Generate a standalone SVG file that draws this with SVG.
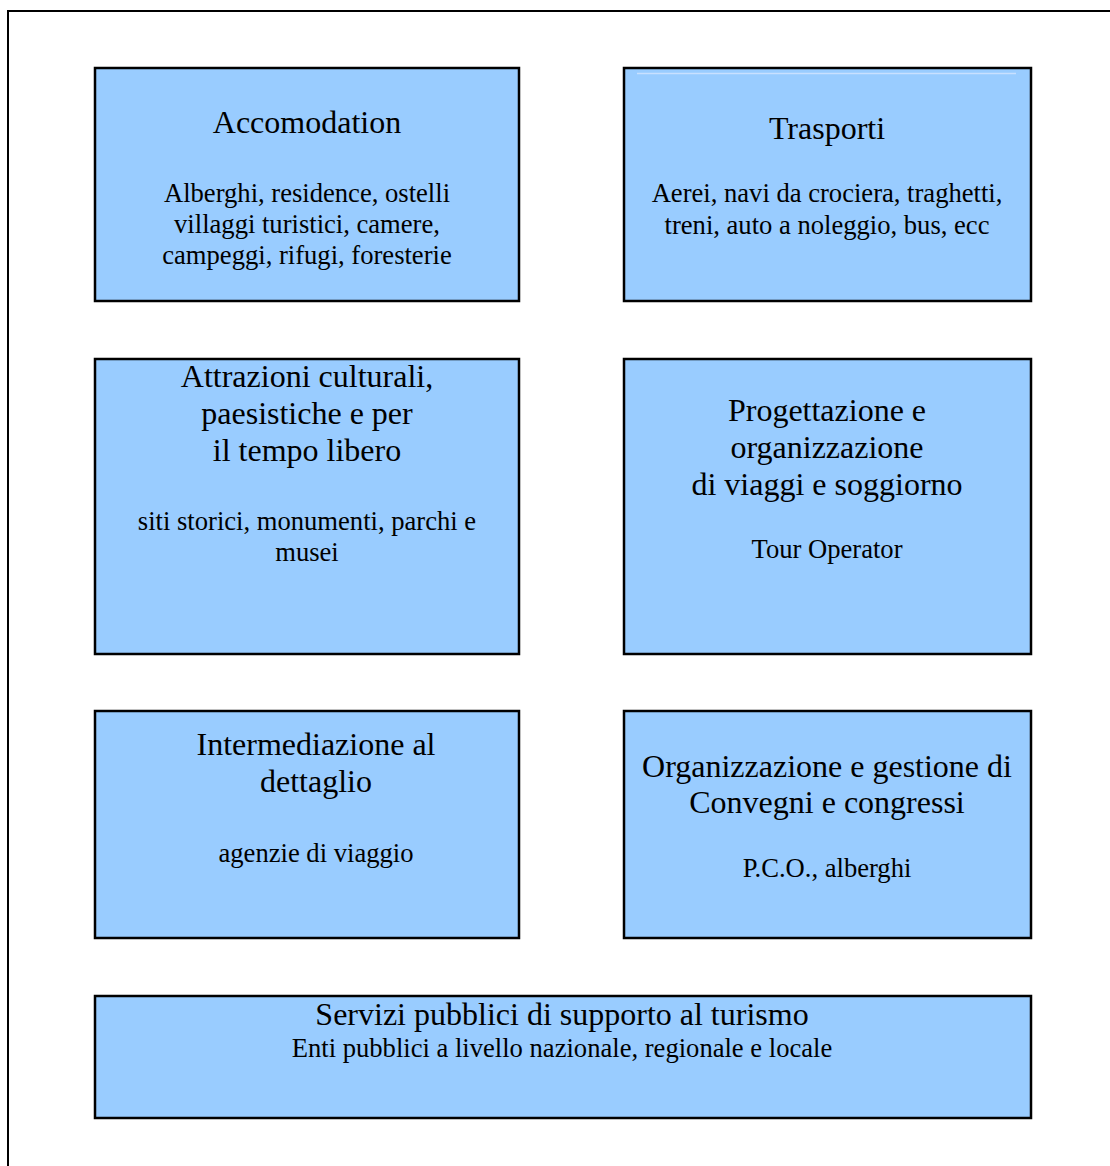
<svg xmlns="http://www.w3.org/2000/svg" width="1110" height="1166" viewBox="0 0 1110 1166">
<style>
.box{fill:#99ccff;stroke:#000;stroke-width:2.5}
text{font-family:"Liberation Serif","Times New Roman",serif;fill:#000;text-anchor:middle}
.t{font-size:32px}
.b{font-size:26.6px}
</style>
<rect x="0" y="0" width="1110" height="1166" fill="#fff"/>
<path d="M8,1166 V11 H1110" fill="none" stroke="#000" stroke-width="2"/>
<g id="accomodation">
<rect class="box" x="95" y="68" width="424" height="233"/>
<text class="t" x="307" y="133">Accomodation</text>
<text class="b" x="307" y="202">Alberghi, residence, ostelli</text>
<text class="b" x="307" y="233">villaggi turistici, camere,</text>
<text class="b" x="307" y="264">campeggi, rifugi, foresterie</text>
</g>
<g id="trasporti">
<rect class="box" x="624" y="68" width="407" height="233"/>
<line x1="637" y1="73.5" x2="1016" y2="73.5" stroke="#c8e0ff" stroke-width="1.5"/>
<text class="t" x="827" y="139">Trasporti</text>
<text class="b" x="827" y="202">Aerei, navi da crociera, traghetti,</text>
<text class="b" x="827" y="234">treni, auto a noleggio, bus, ecc</text>
</g>
<g id="attrazioni">
<rect class="box" x="95" y="359" width="424" height="295"/>
<text class="t" x="307" y="387">Attrazioni culturali,</text>
<text class="t" x="307" y="424">paesistiche e per</text>
<text class="t" x="307" y="461">il tempo libero</text>
<text class="b" x="307" y="530">siti storici, monumenti, parchi e</text>
<text class="b" x="307" y="561">musei</text>
</g>
<g id="progettazione">
<rect class="box" x="624" y="359" width="407" height="295"/>
<text class="t" x="827" y="421">Progettazione e</text>
<text class="t" x="827" y="458">organizzazione</text>
<text class="t" x="827" y="495">di viaggi e soggiorno</text>
<text class="b" x="827" y="558">Tour Operator</text>
</g>
<g id="intermediazione">
<rect class="box" x="95" y="711" width="424" height="227"/>
<text class="t" x="316" y="755">Intermediazione al</text>
<text class="t" x="316" y="792">dettaglio</text>
<text class="b" x="316" y="862">agenzie di viaggio</text>
</g>
<g id="convegni">
<rect class="box" x="624" y="711" width="407" height="227"/>
<text class="t" x="827" y="777">Organizzazione e gestione di</text>
<text class="t" x="827" y="813">Convegni e congressi</text>
<text class="b" x="827" y="877">P.C.O., alberghi</text>
</g>
<g id="servizi">
<rect class="box" x="95" y="996" width="936" height="122"/>
<text class="t" x="562" y="1025">Servizi pubblici di supporto al turismo</text>
<text class="b" x="562" y="1057">Enti pubblici a livello nazionale, regionale e locale</text>
</g>
<g id="connectors"></g>
</svg>
